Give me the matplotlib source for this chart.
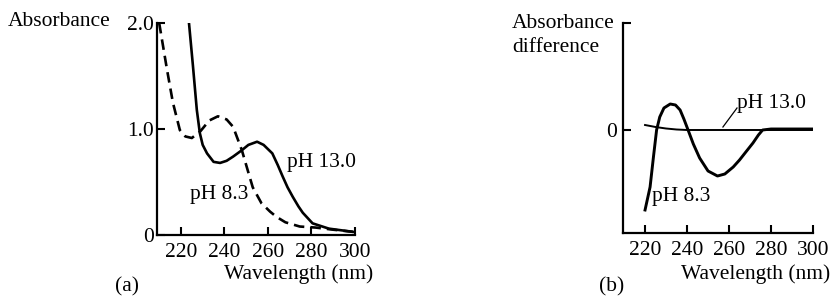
import matplotlib.pyplot as plt

plt.rcParams['font.family'] = 'Liberation Serif'
FS = 15.5

# (a) absorbance spectra
wl_83 = [210, 213.6, 216.3, 219.5, 222, 225, 229, 233, 237, 241, 244, 248, 250.7,
         253, 257, 261, 264, 268, 274.6, 282, 290, 299]
abs_83 = [2.0, 1.56, 1.25, 0.99, 0.93, 0.915, 0.98, 1.08, 1.12, 1.09, 1.02, 0.80, 0.61,
          0.45, 0.30, 0.22, 0.17, 0.12, 0.08, 0.07, 0.05, 0.03]
wl_130 = [223.7, 225.5, 227.3, 228.7, 230, 232, 235, 238, 241, 244, 248, 251, 255,
          258, 262, 264.5, 266.8, 269, 271.4, 274, 276, 280.5, 288, 299]
abs_130 = [2.0, 1.6, 1.18, 0.96, 0.85, 0.77, 0.69, 0.68, 0.70, 0.74, 0.80, 0.85, 0.88,
           0.85, 0.77, 0.66, 0.55, 0.45, 0.36, 0.27, 0.21, 0.11, 0.06, 0.03]

# (b) absorbance difference
wl_d83 = [220, 222.4, 224, 225.5, 227, 229, 232, 234.5, 236.7, 238.5, 240.5, 243, 246,
          250, 254.5, 258, 262, 265, 268, 271.4, 274, 276, 280, 290, 300]
diff_83 = [-0.80, -0.57, -0.27, 0.0, 0.13, 0.22, 0.26, 0.25, 0.20, 0.11, 0.0, -0.14,
           -0.28, -0.41, -0.46, -0.44, -0.37, -0.30, -0.22, -0.13, -0.05, 0.0, 0.01,
           0.01, 0.01]
wl_d130 = [220, 225, 230, 235, 240, 260, 280, 300]
diff_130 = [0.05, 0.03, 0.015, 0.005, 0.0, 0.0, 0.0, 0.0]

xticks = [220, 240, 260, 280, 300]

W, H = 830, 296
fig = plt.figure(figsize=(W / 100, H / 100), dpi=100)


def ax_px(l, r, t, b):
    return fig.add_axes([l / W, 1 - b / H, (r - l) / W, (b - t) / H])


def style(ax):
    for s in ['top', 'right']:
        ax.spines[s].set_visible(False)
    for s in ['left', 'bottom']:
        ax.spines[s].set_linewidth(1.6)
    ax.tick_params(direction='in', length=6, width=1.5, labelsize=FS)
    ax.tick_params(axis='x', pad=6)
    ax.tick_params(axis='y', pad=2)
    ax.set_xticks(xticks)
    ax.patch.set_alpha(0)


def ftext(x, y, s, **kw):
    fig.text(x / W, 1 - y / H, s, fontsize=FS, va='center', **kw)


# panel (a)
ax1 = ax_px(157, 355, 23, 235)
ax1.plot(wl_83, abs_83, color='black', lw=1.9, ls=(0, (4, 2.3)))
ax1.plot(wl_130, abs_130, color='black', lw=1.9)
ax1.set_xlim(209, 300)
ax1.set_ylim(0, 2.0)
ax1.set_yticks([0, 1.0, 2.0])
ax1.set_yticklabels(['0', '1.0', '2.0'])
style(ax1)

# panel (b)
ax2 = ax_px(623, 813, 23, 233)
ax2.plot(wl_d130, diff_130, color='black', lw=1.4)
ax2.plot(wl_d83, diff_83, color='black', lw=2.1)
ax2.plot([257.1, 263.8], [0.03, 0.22], color='black', lw=0.9)
ax2.set_xlim(209.5, 300)
ax2.set_ylim(-1.03, 1.07)
ax2.set_yticks([0, 1.07])
ax2.set_yticklabels(['0', ''])
style(ax2)
ax2.tick_params(axis='y', pad=4)

ftext(8, 22, 'Absorbance')
ftext(287, 163, 'pH 13.0')
ftext(190, 195, 'pH 8.3')
ftext(373, 274, 'Wavelength (nm)', ha='right')
ftext(115, 287, '(a)')

ftext(512, 23, 'Absorbance')
ftext(512, 47, 'difference')
ftext(737, 103, 'pH 13.0')
ftext(652, 197, 'pH 8.3')
ftext(830, 274, 'Wavelength (nm)', ha='right')
ftext(599, 287, '(b)')

fig.savefig('out.png', dpi=100)
